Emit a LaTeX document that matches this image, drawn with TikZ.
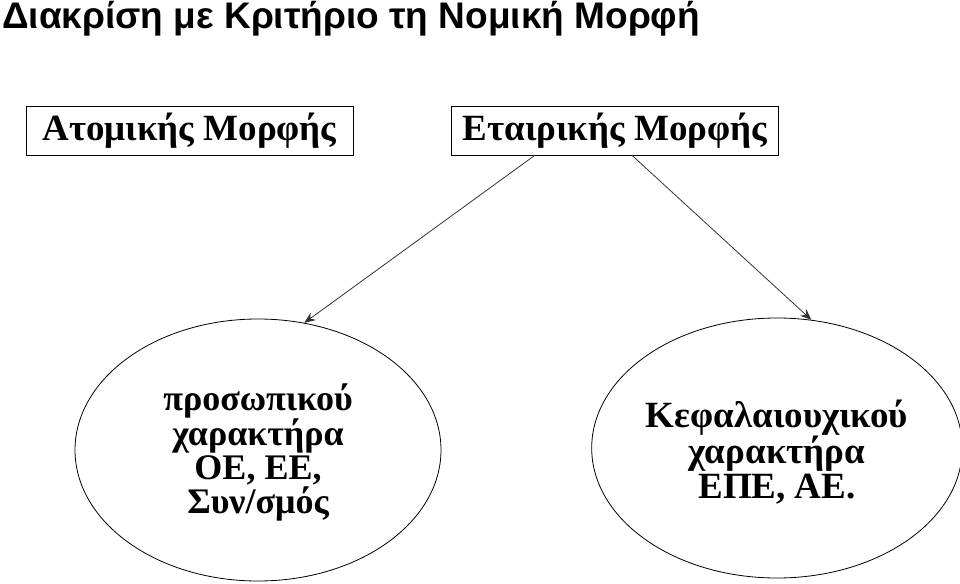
\documentclass[tikz,border=0pt]{standalone}
\usepackage{fontspec}
\setmainfont{Liberation Serif}
\newfontfamily\titlefont{Liberation Sans}
\usetikzlibrary{calc, shapes.geometric, arrows.meta, positioning}

\begin{document}
\begin{tikzpicture}[
    x=1pt, y=-1pt,
    form/.style={rectangle, draw=black, line width=0.8pt, minimum width=327pt, minimum height=49pt, inner sep=0pt, font=\fontsize{37}{37}\selectfont\bfseries},
    kind/.style={ellipse, draw=black, line width=0.8pt, inner sep=0pt, align=center, font=\fontsize{36}{34}\selectfont\bfseries},
    arrow/.style={line width=0.8pt, draw=black!80, -{Stealth[length=11pt, width=9pt]}}
]
\useasboundingbox (0,0) rectangle (960,583);

% Title
\node (title) [anchor=base west, inner sep=0pt, font=\titlefont\fontsize{37}{37}\selectfont\bfseries] at (2,29) {Διακρίση με Κριτήριο τη Νομική Μορφή};

% Top boxes
\node (single) [form] at (189.5,130.5) {Ατομικής Μορφής};
\node (company) [form] at (615,130.5) {Εταιρικής Μορφής};

% Ellipses
\node (personal) [kind, minimum width=366pt, minimum height=262pt] at (258,450) {\rule{0pt}{32pt}προσωπικού\\χαρακτήρα\\ΟΕ, ΕΕ,\\Συν/σμός};
\node (capital) [kind, minimum width=361pt, minimum height=260pt, font=\fontsize{37}{35}\selectfont\bfseries] at (777,448) {\rule{0pt}{36pt}Κεφαλαιουχικού\\χαρακτήρα\\ΕΠΕ, ΑΕ.};

% Connect
\draw [arrow] ($(company.south west)!0.255!(company.south east)$) -- (personal.70);
\draw [arrow] ($(company.south west)!0.552!(company.south east)$) -- (capital.75);

\end{tikzpicture}
\end{document}
